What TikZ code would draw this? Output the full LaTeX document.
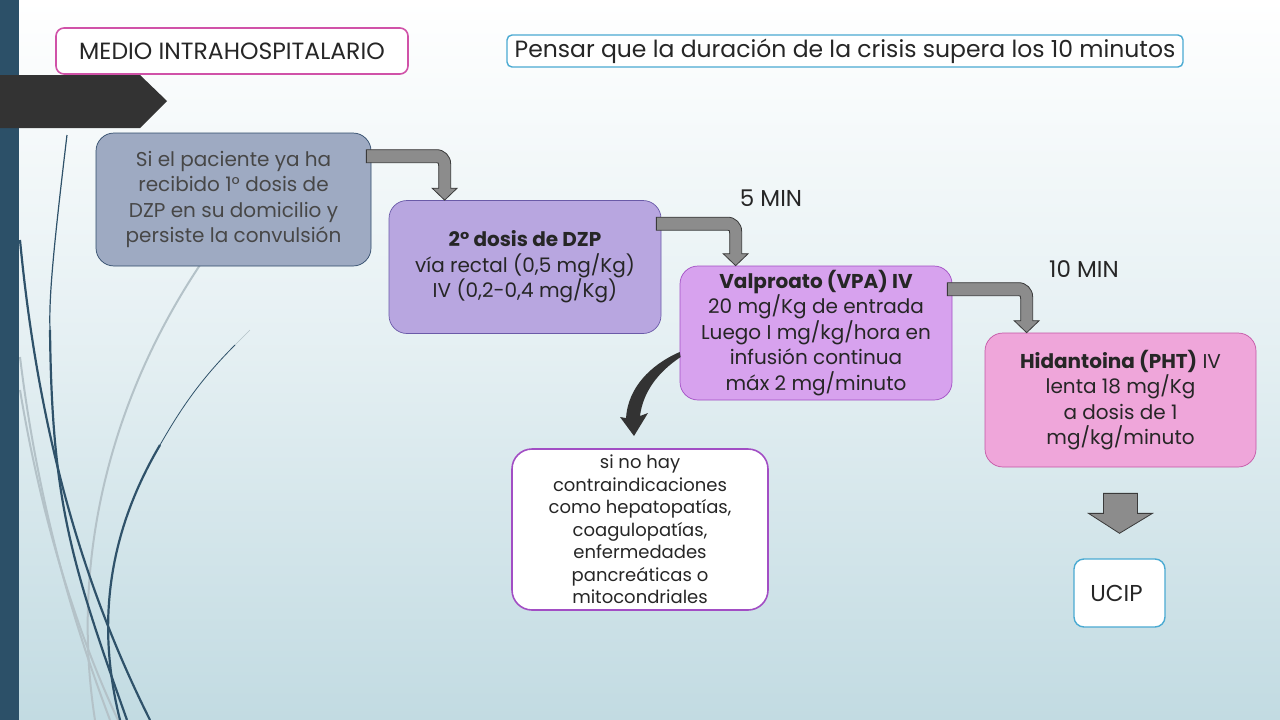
\documentclass[tikz,border=0pt]{standalone}
\usepackage{fontspec}
\setmainfont{Poppins}
\usetikzlibrary{calc}
\definecolor{ink}{HTML}{262626}
\definecolor{barblue}{HTML}{2C5068}
\definecolor{curveblue}{HTML}{2F526A}
\definecolor{curvegray}{HTML}{B4C2C8}
\definecolor{arrowgray}{HTML}{8C8C8C}
\definecolor{arrowedge}{HTML}{3A3A3A}
\definecolor{darkarrow}{HTML}{333333}
\definecolor{casefill}{HTML}{9EAAC2}
\definecolor{caseedge}{HTML}{2F4A6A}
\definecolor{dzpfill}{HTML}{B8A6E0}
\definecolor{dzpedge}{HTML}{6A5AA8}
\definecolor{vpafill}{HTML}{D7A2EE}
\definecolor{vpaedge}{HTML}{A24EC4}
\definecolor{phtfill}{HTML}{EFA6DA}
\definecolor{phtedge}{HTML}{C456A6}
\definecolor{medioedge}{HTML}{D052A8}
\definecolor{skyedge}{HTML}{4AAAD2}
\definecolor{bgbottom}{HTML}{C2DBE2}
\tikzset{
  stepbox/.style={draw, rounded corners=18pt, line width=0.7pt, align=center,
    text=ink, inner sep=0pt, font=\fontsize{20}{25.5}\selectfont},
  titlebox/.style={draw, fill=white, line width=1.6pt, align=center,
    text=ink, inner sep=0pt, font=\fontsize{23.5}{26}\selectfont},
  minlabel/.style={text=ink, font=\fontsize{23}{26}\selectfont},
  blockarrow/.style={fill=arrowgray, draw=arrowedge, line width=0.8pt},
  deco/.style={draw=curveblue, line width=2.2pt},
  decolight/.style={draw=curvegray, line width=2pt},
}
% grey elbow arrow from the top right of one box down onto the next
\newcommand\bentarrow[3]{%
  \coordinate (s) at ($(#1.north east)+(-5,17)$);
  \coordinate (t) at ($(#2.north west)+(#3,0)$);
  \coordinate (c) at ($(s -| t)+(6,0)$);
  \coordinate (i) at ($(s -| t)+(-6,13)$);
  \filldraw[blockarrow] (s) -- ($(c)+(-14,0)$)
    .. controls ($(c)+(-6.3,0)$) and ($(c)+(0,6.3)$) .. ($(c)+(0,14)$)
    -- ($(t)+(6,-12)$) -- ($(t)+(12.5,-12)$) -- (t)
    -- ($(t)+(-12.5,-12)$) -- ($(t)+(-6,-12)$) -- ($(i)+(0,3)$)
    .. controls (i) .. ($(i)+(-3,0)$) -- ($(s)+(0,13)$) -- cycle;}

\begin{document}
\begin{tikzpicture}[x=1pt,y=-1pt]
  \useasboundingbox (0,0) rectangle (1280,720);
  \shade[top color=white, bottom color=bgbottom, middle color=white!55!bgbottom] (0,0) rectangle (1280,720);
  \fill[barblue] (0,0) rectangle (19,720);
  % background curves
  \draw[decolight] (200,265) .. controls (110,400) and (70,560) .. (95,720);
  \draw[decolight] (20,357) .. controls (40,520) and (80,640) .. (110,720);
  \draw[decolight] (20,390) .. controls (45,540) and (85,650) .. (118,720);
  \draw[deco, line width=1.2pt] (67,135) .. controls (52,260) and (49,300) .. (50,330);
  \draw[deco] (50,330) .. controls (52,500) and (70,560) .. (127,720);
  \draw[deco] (20,240) .. controls (40,450) and (90,600) .. (150,720);
  \draw[curvegray, line width=0.6pt] (250,330) -- (235,345);
  \draw[deco, line width=0.8pt] (235,345) .. controls (200,380) and (180,410) .. (160,445);
  \draw[deco] (160,445) .. controls (110,530) and (95,620) .. (120,720);
  \fill[darkarrow] (0,75) -- (140,75) -- (167,101) -- (140,128) -- (0,128) -- cycle;

  % headers
  \node[titlebox, draw=medioedge, rounded corners=8pt, minimum width=352, minimum height=46]
    (medio) at (232,51) {MEDIO INTRAHOSPITALARIO};
  \node[titlebox, draw=skyedge, line width=1.4pt, rounded corners=5pt, minimum width=676, minimum height=32]
    (pensar) at (845,51) {Pensar que la duración de la crisis supera los 10 minutos};

  % steps
  \node[stepbox, fill=casefill, draw=caseedge, text=ink!85, minimum width=275, minimum height=133]
    (caso) at (233.5,199.5) {Si el paciente ya ha\\recibido 1° dosis de\\DZP en su domicilio y\\persiste la convulsión};
  \node[stepbox, fill=dzpfill, draw=dzpedge, minimum width=272, minimum height=133]
    (dzp) at (525,267) {\textbf{2° dosis de DZP}\\vía rectal (0,5 mg/Kg)\\IV (0,2-0,4 mg/Kg)};
  \node[stepbox, fill=vpafill, draw=vpaedge, minimum width=272, minimum height=134]
    (vpa) at (816,333) {\textbf{Valproato (VPA) IV}\\20 mg/Kg de entrada\\Luego I mg/kg/hora en\\infusión continua\\máx 2 mg/minuto};
  \node[stepbox, fill=phtfill, draw=phtedge, minimum width=271, minimum height=134]
    (pht) at (1120.5,400) {\textbf{Hidantoina (PHT)} IV\\lenta 18 mg/Kg\\a dosis de 1\\mg/kg/minuto};
  \node[stepbox, fill=white, draw=vpaedge, line width=1.6pt, rounded corners=20pt,
    font=\fontsize{18}{22.5}\selectfont, minimum width=256, minimum height=161]
    (nota) at (640,529.5) {si no hay\\contraindicaciones\\como hepatopatías,\\coagulopatías,\\enfermedades\\pancreáticas o\\mitocondriales};
  \node[titlebox, draw=skyedge, line width=1.4pt, rounded corners=10pt, font=\fontsize{23}{26}\selectfont,
    minimum width=91, minimum height=68] (ucip) at (1119.5,593) {UCIP\hspace{6pt}};

  \node[minlabel] (cinco) at (771,198) {5 MIN};
  \node[minlabel] (diez) at (1084,269) {10 MIN};

  % arrows
  \bentarrow{caso}{dzp}{56}
  \bentarrow{dzp}{vpa}{56}
  \bentarrow{vpa}{pht}{42}
  \coordinate (d) at ($(pht.south)+(0,26)$);
  \filldraw[blockarrow] ($(d)+(-17,0)$) -- ($(d)+(17,0)$) -- ($(d)+(17,20)$) -- ($(d)+(32,20)$)
    -- ($(ucip.north)+(0,-25)$) -- ($(d)+(-32,20)$) -- ($(d)+(-17,20)$) -- cycle;
  \fill[darkarrow] ($(vpa.west)+(0,19)$) .. controls (650,365) and (628,388) .. (626,418)
    -- (620,417) -- (634,436) -- (648,413) -- (640,416)
    .. controls (643,392) and (658,372) .. ($(vpa.west)+(1,24)$) -- cycle;
\end{tikzpicture}
\end{document}
